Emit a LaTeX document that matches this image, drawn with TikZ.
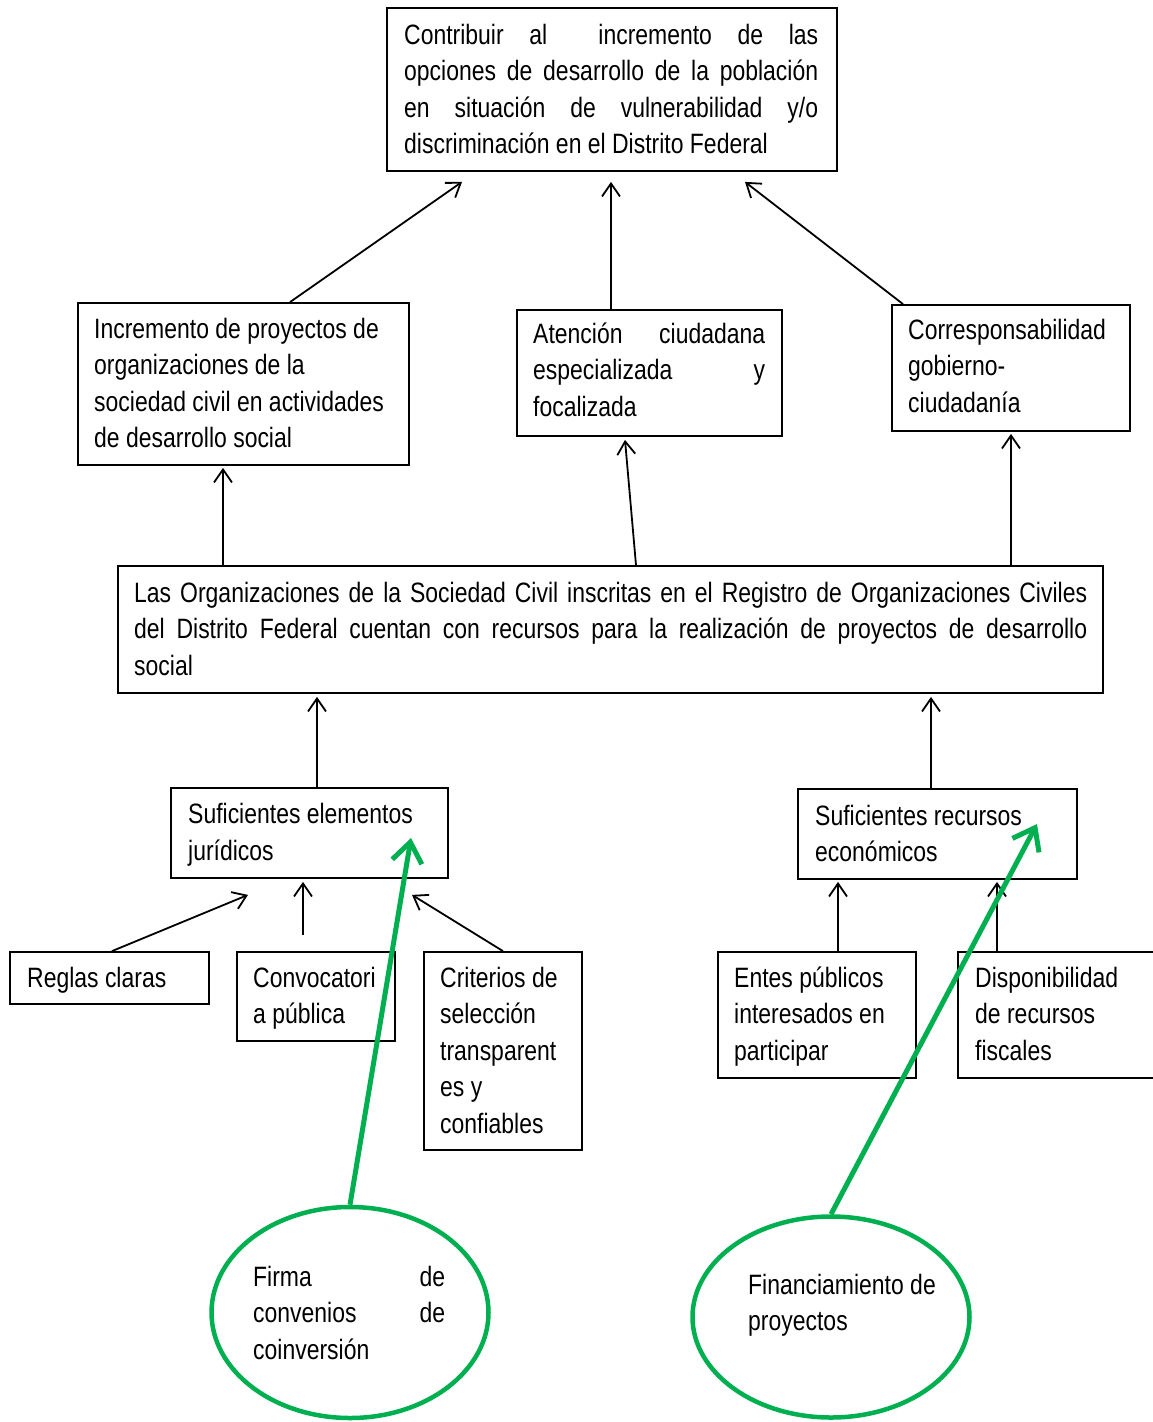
\documentclass[tikz,border=0pt]{standalone}
\usepackage{fontspec}
\setmainfont{Liberation Sans}[FakeStretch=0.82]
\usetikzlibrary{arrows.meta,shapes.geometric,calc}
\definecolor{grn}{RGB}{0,176,80}
\newcommand{\jl}[2]{\makebox[#1pt][s]{#2}}
\newcommand{\T}[4]{\node[txt] (#1) at (#2,#3-25.55) {\strut#4};}
\begin{document}
\begin{tikzpicture}[x=1pt,y=-1pt,
  box/.style={draw,line width=1.8pt,rectangle,inner sep=0pt},
  txt/.style={anchor=north west,inner sep=0pt,align=left,font=\fontsize{28}{36.5}\selectfont},
  arr/.style={line width=1.8pt,-{Straight Barb[length=13pt,width=18pt]}},
  garr/.style={draw=grn,line width=5pt,-{Straight Barb[length=20pt,width=30pt]}},
  ell/.style={ellipse,draw=grn,line width=4.5pt,inner sep=0pt}]
\clip (0,0) rectangle (1153,1422);
\fill[white] (0,0) rectangle (1153,1422);
% boxes
\node[box,minimum width=450pt,minimum height=163pt] (top) at (612,89.5) {};
\node[box,minimum width=331pt,minimum height=162pt] (lbox) at (243.5,384) {};
\node[box,minimum width=265pt,minimum height=126pt] (mbox) at (649.5,373) {};
\node[box,minimum width=238pt,minimum height=126pt] (rbox) at (1011,368) {};
\node[box,minimum width=985pt,minimum height=127pt] (big) at (610.5,629.5) {};
\node[box,minimum width=277pt,minimum height=90pt] (sufE) at (309.5,833) {};
\node[box,minimum width=279pt,minimum height=90pt] (sufR) at (937.5,834) {};
\node[box,minimum width=199pt,minimum height=52pt] (reglas) at (109.5,978) {};
\node[box,minimum width=158pt,minimum height=89pt] (conv) at (316,996.5) {};
\node[box,minimum width=158pt,minimum height=198pt] (crit) at (503,1051) {};
\node[box,minimum width=198pt,minimum height=126pt] (entes) at (817,1015) {};
\node[box,minimum width=197pt,minimum height=126pt] (disp) at (1056.5,1015) {};
\node[ell,minimum width=277pt,minimum height=211pt] (e1) at (350,1312.5) {};
\node[ell,minimum width=277pt,minimum height=201pt] (e2) at (831,1317) {};
% texts
\T{ttop}{404}{44}{\jl{414}{Contribuir al \ incremento de las}\\\jl{414}{opciones de desarrollo de la población}\\\jl{414}{en situación de vulnerabilidad y/o}\\discriminación en el Distrito Federal}
\T{tl}{94}{338}{Incremento de proyectos de\\organizaciones de la\\sociedad civil en actividades\\de desarrollo social}
\T{tm}{533}{343}{\jl{232}{Atención ciudadana}\\\jl{232}{especializada y}\\focalizada}
\T{tr}{908}{339}{Corresponsabilidad\\gobierno-\\ciudadanía}
\T{tbig}{134}{602}{\jl{953}{Las Organizaciones de la Sociedad Civil inscritas en el Registro de Organizaciones Civiles}\\\jl{953}{del Distrito Federal cuentan con recursos para la realización de proyectos de desarrollo}\\social}
\T{tsE}{188}{823.5}{Suficientes elementos\\jurídicos}
\T{tsR}{815}{825}{Suficientes recursos\\económicos}
\T{treg}{27}{987}{Reglas claras}
\T{tconv}{253}{987}{Convocatori\\a pública}
\T{tcrit}{440}{987}{Criterios de\\selección\\transparent\\es y\\confiables}
\T{tent}{734}{987}{Entes públicos\\interesados en\\participar}
\T{tdisp}{975}{987}{Disponibilidad\\de recursos\\fiscales}
\T{te1}{253}{1286}{\jl{192}{Firma de}\\\jl{192}{convenios de}\\coinversión}
\T{te2}{748}{1294}{Financiamiento de\\proyectos}
% black arrows
\draw[arr] (290,0 |- lbox.north) -- ($(462,0 |- top.south)+(0,10)$);
\draw[arr] (611,0 |- mbox.north) -- ($(611,0 |- top.south)+(0,10)$);
\draw[arr] (903,0 |- rbox.north) -- ($(745,0 |- top.south)+(0,10)$);
\draw[arr] (223,0 |- big.north) -- ($(223,0 |- lbox.south)+(0,2)$);
\draw[arr] (636,0 |- big.north) -- ($(625,0 |- mbox.south)+(0,3)$);
\draw[arr] (1011,0 |- big.north) -- ($(1011,0 |- rbox.south)+(0,2)$);
\draw[arr] (317,0 |- sufE.north) -- ($(317,0 |- big.south)+(0,3)$);
\draw[arr] (931,0 |- sufR.north) -- ($(931,0 |- big.south)+(0,3)$);
\draw[arr] (112,0 |- reglas.north) -- ($(248,0 |- sufE.south)+(0,16)$);
\coordinate (cstart) at ($(303,0 |- conv.north)+(0,-16)$);
\draw[arr] (cstart) -- ($(303,0 |- sufE.south)+(0,3)$);
\draw[arr] (503,0 |- crit.north) -- ($(412,0 |- sufE.south)+(0,16)$);
\draw[arr] (838,0 |- entes.north) -- ($(838,0 |- sufR.south)+(0,2)$);
\draw[arr] (997,0 |- disp.north) -- ($(997,0 |- sufR.south)+(0,2)$);
% green arrows
\coordinate (g1) at (411,838);
\coordinate (g2) at (1037,824);
\draw[garr] (e1.north) -- (g1);
\draw[garr] (e2.north) -- (g2);
\end{tikzpicture}
\end{document}
